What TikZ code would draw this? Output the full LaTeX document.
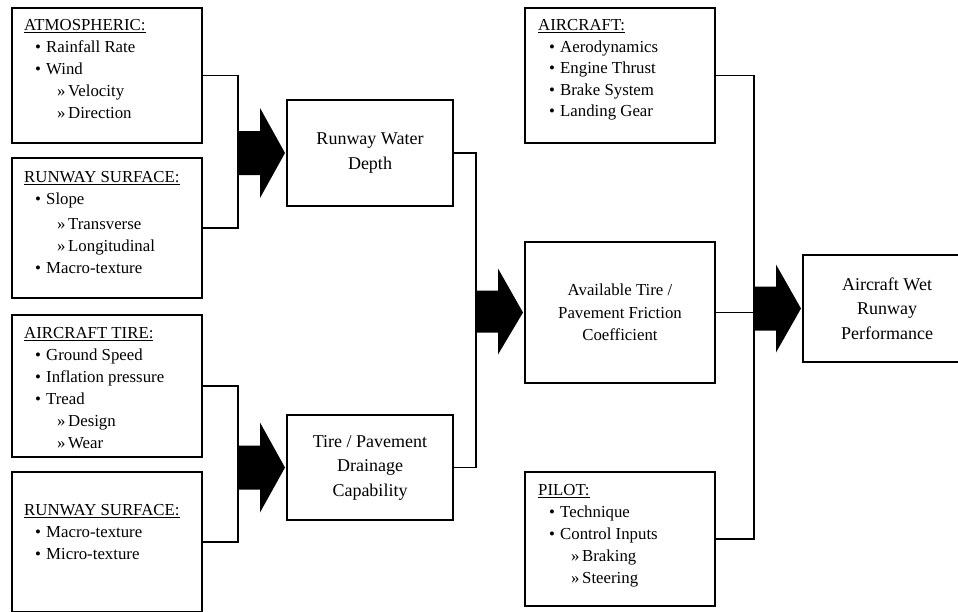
\documentclass[tikz,border=0pt]{standalone}
\usepackage{fontspec}
\setmainfont{Liberation Serif}
\newcommand\hd[1]{\underline{#1}}
\newcommand\bl{\hspace*{11pt}\makebox[11pt][l]{•}}
\newcommand\sbl{\hspace*{33pt}\makebox[11pt][l]{»}}

\begin{document}
\begin{tikzpicture}[x=1pt,y=-1pt,
  box/.style={draw,line width=1.9pt,anchor=north west,inner sep=0pt,outer sep=0pt},
  list/.style={anchor=north west,inner sep=0pt,align=left,font=\fontsize{16.8}{22}\selectfont},
  mid/.style={align=center,font=\fontsize{18}{24.5}\selectfont},
  link/.style={line width=1.4pt}]
\useasboundingbox (0,0) rectangle (958,611);
\clip (0,0) rectangle (958,611);
\node[box,minimum width=190,minimum height=135] (atmos) at (12,8) {};
\node[box,minimum width=190,minimum height=140] (rwsurf) at (12,158) {};
\node[box,minimum width=190,minimum height=142] (tire) at (12,315) {};
\node[box,minimum width=190,minimum height=140] (rwsurfb) at (12,472) {};
\node[box,minimum width=190,minimum height=135] (aircraft) at (525,8) {};
\node[box,minimum width=190,minimum height=134] (pilot) at (525,472) {};
\node[list] (atmos-t) at (24,19.5) {\hd{ATMOSPHERIC:}\\ \bl Rainfall Rate\\ \bl Wind\\ \sbl Velocity\\ \sbl Direction};
\node[list] (rwsurf-t) at (24,171.5) {\hd{RUNWAY SURFACE:}\\ \bl Slope\\[3pt] \sbl Transverse\\ \sbl Longitudinal\\ \bl Macro-texture};
\node[list] (tire-t) at (24,327.5) {\hd{AIRCRAFT TIRE:}\\ \bl Ground Speed\\ \bl Inflation pressure\\ \bl Tread\\ \sbl Design\\ \sbl Wear};
\node[list] (rwsurfb-t) at (24,504.5) {\hd{RUNWAY SURFACE:}\\ \bl Macro-texture\\ \bl Micro-texture};
\node[list,font=\fontsize{16.8}{21.5}\selectfont] (aircraft-t) at (538,19.5) {\hd{AIRCRAFT:}\\ \bl Aerodynamics\\ \bl Engine Thrust\\ \bl Brake System\\ \bl Landing Gear};
\node[list] (pilot-t) at (538,484.5) {\hd{PILOT:}\\ \bl Technique\\ \bl Control Inputs\\ \sbl Braking\\ \sbl Steering};
\node[box,mid,minimum width=166,minimum height=106] (depth) at (287,100) {Runway Water\\Depth};
\node[box,mid,minimum width=166,minimum height=105] (drain) at (287,415) {Tire / Pavement\\Drainage\\Capability};
\node[box,mid,font=\fontsize{16.8}{22.5}\selectfont,minimum width=190,minimum height=141] (friction) at (525,242) {Available Tire /\\Pavement Friction\\Coefficient};
\node[box,mid,minimum width=168,minimum height=107] (perf) at (803,255) {Aircraft Wet\\Runway\\Performance};
\coordinate (j1) at (238,153);
\coordinate (j2) at (238,467.5);
\coordinate (j3) at (476,311.5);
\coordinate (j4) at (754,312.5);
\draw[link] (atmos.east) -| (j1) |- (rwsurf.east);
\draw[link] (tire.east) -| (j2) |- (rwsurfb.east);
\draw[link] (depth.east) -| (j3) |- (drain.east);
\draw[link] (aircraft.east) -| (j4) |- (pilot.east);
\draw[link] (friction.east) -- (j4);
\fill ([xshift=-2pt]depth.west) -- ++(-25,-45) -- ++(0,23) -- ++(-22,0) -- ++(0,44) -- ++(22,0) -- ++(0,23) -- cycle;
\fill ([xshift=-2pt]drain.west) -- ++(-25,-45) -- ++(0,23) -- ++(-22,0) -- ++(0,44) -- ++(22,0) -- ++(0,23) -- cycle;
\fill ([xshift=-2pt]friction.west) -- ++(-25,-44) -- ++(0,22) -- ++(-22,0) -- ++(0,42) -- ++(22,0) -- ++(0,22) -- cycle;
\fill ([xshift=-2pt]perf.west) -- ++(-25,-44) -- ++(0,22) -- ++(-22,0) -- ++(0,44) -- ++(22,0) -- ++(0,22) -- cycle;
\end{tikzpicture}
\end{document}
